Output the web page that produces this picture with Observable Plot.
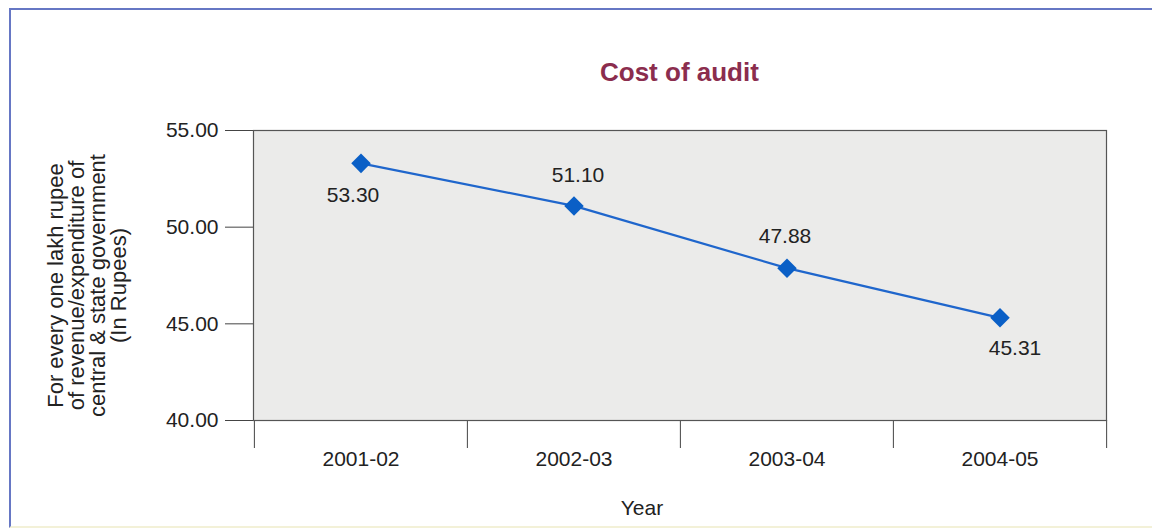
<!DOCTYPE html>
<html>
<head>
<meta charset="utf-8">
<script src="https://cdn.jsdelivr.net/npm/d3@7"></script>
<script src="https://cdn.jsdelivr.net/npm/@observablehq/plot@0.6"></script>
<style>
  html, body { margin: 0; padding: 0; background: #fff; }
  #wrap { position: relative; width: 1152px; height: 530px; overflow: hidden; font-family: "Liberation Sans", Arial, sans-serif; }
  #border { position: absolute; left: 9px; top: 8px; right: -10px; bottom: 2px; border-left: 2px solid #6677c4; border-top: 2px solid #6677c4; border-bottom: 2px solid #f3f1d8; }
  #title { position: absolute; left: 600px; top: 57px; font-size: 26px; font-weight: bold; color: #8b2d4e; white-space: nowrap; }
  #chart { position: absolute; left: 0; top: 0; }
</style>
</head>
<body>
<div id="wrap">
  <div id="border"></div>
  <div id="chart"></div>
  <div id="title">Cost of audit</div>
</div>
<script>
// Data
const years = ["2001-02", "2002-03", "2003-04", "2004-05"];
const costs = [53.30, 51.10, 47.88, 45.31];
const yTicks = [40, 45, 50, 55];
const yLabel = "For every one lakh rupee\nof revenue/expenditure of\ncentral & state government\n(In Rupees)";
const xLabel = "Year";

// Label placement (layout only)
const labelDy = [32, -31, -32, 30];
const labelDx = [-8, 4, -2, 15];

const data = years.map((y, i) => ({year: y, cost: costs[i], dx: labelDx[i], dy: labelDy[i]}));

const W = 1152, H = 530;
const mL = 253, mR = 46, mT = 130, mB = 110;
const bw = (W - mL - mR) / years.length;
const font = "Liberation Sans, Arial, sans-serif";
const fs = 21;

const labelMarks = data.map(d =>
  Plot.text([d], {x: "year", y: "cost", text: d => d.cost.toFixed(2), dx: d.dx, dy: d.dy, fontSize: fs, fill: "#222"})
);

const chart = Plot.plot({
  width: W, height: H,
  marginLeft: mL, marginRight: mR, marginTop: mT, marginBottom: mB,
  style: {fontFamily: font, background: "transparent", overflow: "visible"},
  x: {type: "band", domain: years, padding: 0},
  y: {domain: [40, 55]},
  marks: [
    Plot.frame({fill: "#ebebea", stroke: null}),
    Plot.axisY({ticks: yTicks, tickFormat: d3.format(".2f"), tickSize: 28, tickPadding: 7, fontSize: fs, stroke: "#444", color: "#222", label: null}),
    Plot.axisX({tickSize: 0, tickPadding: 31, fontSize: fs, color: "#222", label: null}),
    Plot.ruleX(years, {x: d => d, dx: -bw / 2, insetTop: H - mT - mB, insetBottom: -28, stroke: "#444"}),
    Plot.ruleX(years.slice(-1), {x: d => d, dx: bw / 2, insetTop: H - mT - mB, insetBottom: -28, stroke: "#444"}),
    Plot.frame({stroke: "#555", strokeWidth: 1.2}),
    Plot.line(data, {x: "year", y: "cost", stroke: "#1f66cc", strokeWidth: 2.2}),
    Plot.dot(data, {x: "year", y: "cost", symbol: "diamond2", r: 8.8, fill: "#0a5fc6", stroke: "none"}),
    ...labelMarks,
    Plot.text([yLabel], {frameAnchor: "left", text: d => d, rotate: -90, dx: -166, dy: 10, textAnchor: "middle", lineAnchor: "middle", lineHeight: 0.96, fontSize: 22, fill: "#222"}),
    Plot.text([xLabel], {frameAnchor: "bottom", text: d => d, dx: -38, dy: 94, fontSize: fs, fill: "#222"})
  ]
});
document.getElementById("chart").appendChild(chart);
</script>
</body>
</html>
